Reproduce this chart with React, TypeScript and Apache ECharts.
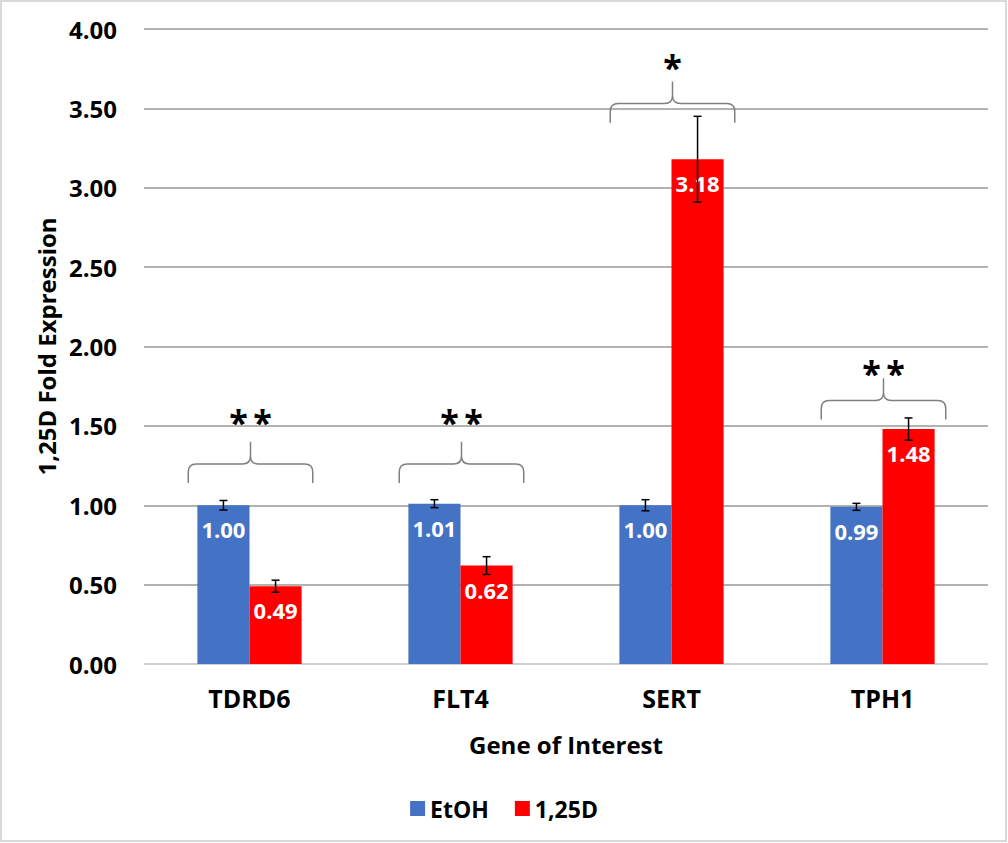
import React, { useEffect, useRef } from "react";
import * as echarts from "echarts";

const categories = ["TDRD6", "FLT4", "SERT", "TPH1"];
const seriesNames = ["EtOH", "1,25D"];
const etohValues = [1.0, 1.01, 1.0, 0.99];
const etohErrors = [0.03, 0.025, 0.035, 0.022];
const d125Values = [0.49, 0.62, 3.18, 1.48];
const d125Errors = [0.038, 0.056, 0.27, 0.07];
// brace: tip, horizontal, ends; star position; star text
const braceTip = [1.4, 1.4, 3.67, 1.8];
const braceMid = [1.26, 1.26, 3.53, 1.66];
const braceEnd = [1.14, 1.14, 3.41, 1.54];
const starY = [1.56, 1.56, 3.8, 1.87];
const starText = ["**", "**", "*", "**"];
const yTicks = { min: 0, max: 4, interval: 0.5 };

const FONT = "'Open Sans', sans-serif";
const BAR_FRAC = 0.247;

export default function App() {
  const ref = useRef<HTMLDivElement>(null);
  useEffect(() => {
    if (!ref.current) return;
    const chart = echarts.init(ref.current, null, { renderer: "svg" });

    const errorSeries = (vals: number[], errs: number[], sign: number) => ({
      type: "custom",
      z: 10,
      silent: true,
      data: vals.map((v, i) => [i, v, errs[i]]),
      encode: { x: 0, y: 1 },
      renderItem: (params: any, api: any) => {
        const x = api.value(0);
        const v = api.value(1);
        const e = api.value(2);
        const band = api.size([1, 0])[0];
        const off = (sign * band * BAR_FRAC) / 2;
        const top = api.coord([x, v + e]);
        const bot = api.coord([x, v - e]);
        const cx = top[0] + off;
        const cap = 4;
        const st = { stroke: "#000", lineWidth: 1.5 };
        return {
          type: "group",
          children: [
            { type: "line", shape: { x1: cx, y1: top[1], x2: cx, y2: bot[1] }, style: st },
            { type: "line", shape: { x1: cx - cap, y1: top[1], x2: cx + cap, y2: top[1] }, style: st },
            { type: "line", shape: { x1: cx - cap, y1: bot[1], x2: cx + cap, y2: bot[1] }, style: st },
          ],
        };
      },
    });

    const braceSeries = {
      type: "custom",
      z: 10,
      silent: true,
      data: categories.map((_, i) => [i, braceTip[i], braceMid[i], braceEnd[i], starY[i]]),
      encode: { x: 0, y: 1 },
      renderItem: (params: any, api: any) => {
        const i = params.dataIndex;
        const x = api.value(0);
        const band = api.size([1, 0])[0];
        const half = band * 0.295;
        const pTip = api.coord([x, api.value(1)]);
        const pMid = api.coord([x, api.value(2)]);
        const pEnd = api.coord([x, api.value(3)]);
        const pStar = api.coord([x, api.value(4)]);
        const xC = pTip[0] + 1;
        const xL = xC - half;
        const xR = xC + half;
        const yT = pTip[1];
        const yM = pMid[1];
        const yE = pEnd[1];
        const r = 8;
        const d =
          `M${xL} ${yE} L${xL} ${yM + r} Q${xL} ${yM} ${xL + r} ${yM} L${xC - r} ${yM} Q${xC} ${yM} ${xC} ${yM - r} L${xC} ${yT} ` +
          `M${xC} ${yM - r} Q${xC} ${yM} ${xC + r} ${yM} L${xR - r} ${yM} Q${xR} ${yM} ${xR} ${yM + r} L${xR} ${yE}`;
        return {
          type: "group",
          children: [
            {
              type: "path",
              shape: { pathData: d },
              style: { stroke: "#7f7f7f", fill: "none", lineWidth: 1.5 },
            },
            {
              type: "text",
              x: xC,
              y: pStar[1] + 6,
              style: {
                text: starText[i].split("").join("\u2009"),
                font: `bold 34px ${FONT}`,
                fill: "#000",
                align: "center",
                verticalAlign: "middle",
              },
            },
          ],
        };
      },
    };

    const labelStyle = {
      show: true,
      position: "insideTop",
      distance: 13,
      color: "#fff",
      fontFamily: FONT,
      fontWeight: "bold",
      fontSize: 22,
      formatter: (p: any) => Number(p.value).toFixed(2),
    };

    chart.setOption({
      animation: false,
      textStyle: { fontFamily: FONT },
      graphic: [
        {
          type: "rect",
          shape: { x: 1, y: 1, width: 1005, height: 840 },
          style: { fill: "none", stroke: "#d9d9d9", lineWidth: 2 },
          z: -1,
        },
      ],
      grid: { left: 144, right: 20, top: 29, bottom: 179 },
      legend: {
        data: seriesNames,
        bottom: 18,
        left: "center",
        icon: "rect",
        itemWidth: 15,
        itemHeight: 15,
        itemGap: 26,
        textStyle: { fontFamily: FONT, fontWeight: "bold", fontSize: 23, color: "#000" },
      },
      xAxis: {
        type: "category",
        data: categories,
        name: "Gene of Interest",
        nameLocation: "middle",
        nameGap: 68,
        nameTextStyle: { fontFamily: FONT, fontWeight: "bold", fontSize: 24, color: "#000" },
        axisLine: { lineStyle: { color: "#d9d9d9", width: 1.5 } },
        axisTick: { show: false },
        axisLabel: { margin: 21, fontFamily: FONT, fontWeight: "bold", fontSize: 25, color: "#000" },
      },
      yAxis: {
        type: "value",
        min: yTicks.min,
        max: yTicks.max,
        interval: yTicks.interval,
        name: "1,25D Fold Expression",
        nameLocation: "middle",
        nameRotate: 90,
        nameGap: 64,
        nameTextStyle: { fontFamily: FONT, fontWeight: "bold", fontSize: 24, color: "#000" },
        axisLine: { show: false },
        axisTick: { show: false },
        splitLine: { lineStyle: { color: "#999", width: 1.5 } },
        axisLabel: {
          margin: 27,
          fontFamily: FONT,
          fontWeight: "bold",
          fontSize: 24,
          color: "#000",
          formatter: (v: number) => v.toFixed(2),
        },
      },
      series: [
        {
          name: seriesNames[0],
          type: "bar",
          data: etohValues,
          barWidth: `${BAR_FRAC * 100}%`,
          barGap: "0%",
          itemStyle: { color: "#4472C4" },
          label: labelStyle,
        },
        {
          name: seriesNames[1],
          type: "bar",
          data: d125Values,
          barWidth: `${BAR_FRAC * 100}%`,
          barGap: "0%",
          itemStyle: { color: "#FF0000" },
          label: labelStyle,
        },
        errorSeries(etohValues, etohErrors, -1),
        errorSeries(d125Values, d125Errors, 1),
        braceSeries,
      ],
    });
    return () => chart.dispose();
  }, []);
  return (
    <div
      ref={ref}
      style={{ position: "absolute", left: 0, top: 0, width: 1008, height: 843, background: "#fff" }}
    />
  );
}
